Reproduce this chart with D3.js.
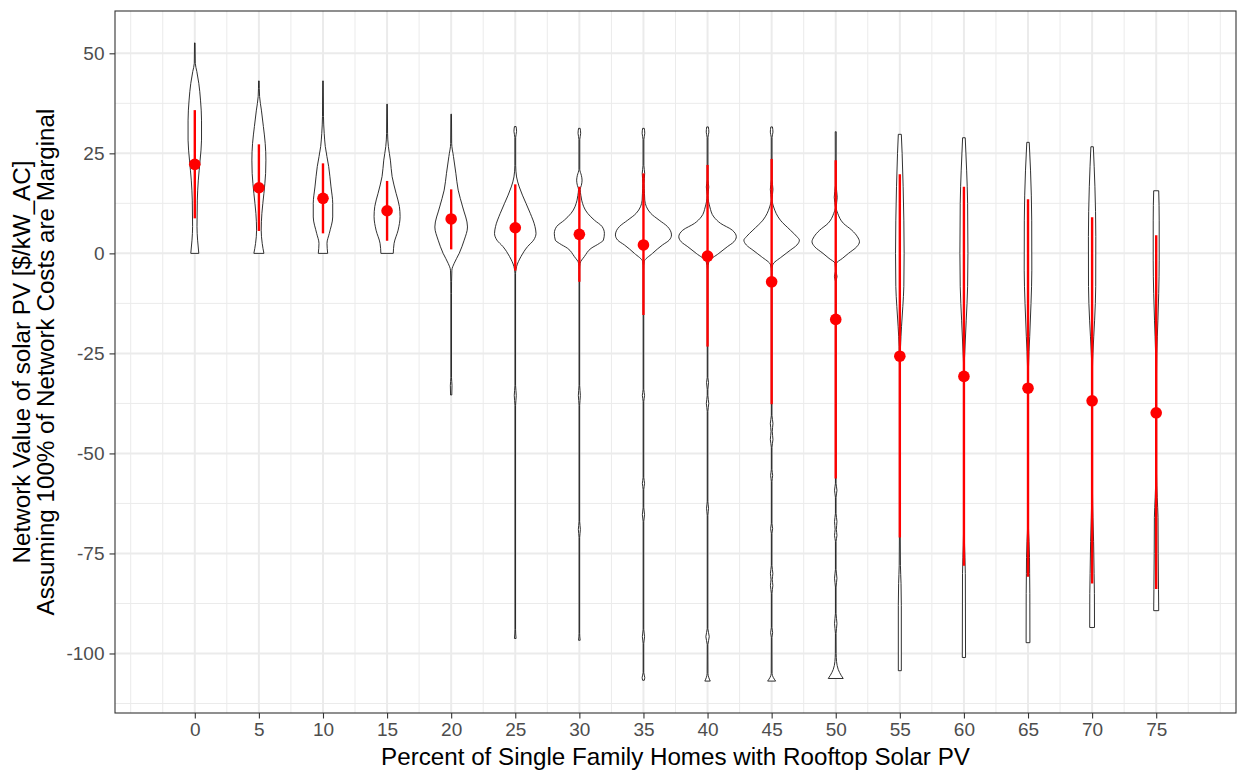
<!DOCTYPE html>
<html>
<head>
<meta charset="utf-8">
<script src="https://cdn.jsdelivr.net/npm/d3@7"></script>
<style>
  html, body { margin: 0; padding: 0; background: #ffffff; }
  svg { display: block; }
  text { font-family: "Liberation Sans", Arial, Helvetica, sans-serif; }
</style>
</head>
<body>
<svg id="chart" width="1238" height="775"></svg>
<script>
// Share of single family homes with rooftop PV (%)
const pct = [0, 5, 10, 15, 20, 25, 30, 35, 40, 45, 50, 55, 60, 65, 70, 75];

// Mean network value and mean ± 1 sd ($/kW_AC)
const meanValue = [22.25, 16.4, 13.75, 10.65, 8.6, 6.4, 4.75, 2.1, -0.7, -7.1, -16.5, -25.7, -30.75, -33.7, -36.85, -39.85];
const lowerValue = [8.75, 5.6, 5.0, 3.15, 1.0, -4.3, -7.1, -15.4, -23.3, -37.7, -56.25, -71.0, -78.1, -80.8, -82.5, -83.9];
const upperValue = [35.8, 27.25, 22.5, 18.1, 16.0, 17.25, 16.65, 20.0, 22.1, 23.6, 23.3, 19.8, 16.65, 13.5, 9.0, 4.5];

// Violin outlines: [value, scaled density] from the top of each distribution to its bottom
const shape00 = [[52.6,0.010],[47.5,0.017],[45.5,0.069],[42.5,0.139],[38.3,0.198],[33.3,0.233],[28.3,0.233],[23.3,0.184],[18.3,0.122],[13.3,0.087],[6.7,0.076],[3.3,0.097],[0,0.139]];
const shape05 = [[43.1,0.010],[39.2,0.024],[35.8,0.087],[31.7,0.156],[27.5,0.219],[23.3,0.243],[20,0.233],[15,0.174],[10,0.104],[5.8,0.080],[2.5,0.115],[0,0.174]];
const shape10 = [[43.1,0.010],[34.2,0.017],[30,0.042],[26.7,0.080],[21.7,0.198],[16.6,0.278],[12.5,0.337],[9.1,0.337],[5,0.219],[2.5,0.139],[0,0.163]];
const shape15 = [[37.3,0.010],[30,0.017],[26.7,0.045],[23.3,0.115],[19.2,0.174],[15,0.313],[11.7,0.427],[9.2,0.451],[5.8,0.382],[2.5,0.243],[0,0.215]];
const shape20 = [[34.8,0.010],[27.5,0.017],[24.2,0.080],[20,0.163],[15.8,0.243],[11.6,0.399],[6.6,0.566],[3.3,0.451],[0,0.278],[-2.5,0.104],[-4.2,0.024],[-10,0.010],[-31,0.010],[-33,0.028],[-35.4,0.021]];
const shape25 = [[31.7,0.028],[30.5,0.045],[29,0.014],[22,0.014],[19.1,0.045],[16.6,0.139],[12.5,0.372],[10,0.521],[6.7,0.684],[5,0.719],[3.3,0.635],[1.7,0.427],[-0.8,0.198],[-3.3,0.045],[-5,0.010],[-33,0.010],[-35.5,0.035],[-38,0.010],[-94,0.010],[-96.25,0.028]];
const shape30 = [[31.25,0.028],[30,0.045],[28.5,0.014],[21,0.014],[19.5,0.069],[18.3,0.094],[17,0.069],[16,0.028],[14.5,0.052],[13.3,0.080],[10,0.288],[8.3,0.521],[6.7,0.788],[5,0.868],[3.3,0.833],[2.5,0.694],[1.25,0.406],[-0.8,0.174],[-2.5,0.024],[-4,0.010],[-33,0.010],[-35.5,0.035],[-38,0.010],[-67,0.010],[-69,0.035],[-71,0.010],[-95,0.010],[-96.7,0.028]];
const shape35 = [[31.25,0.028],[30,0.045],[28.5,0.014],[22,0.014],[20,0.042],[17.5,0.021],[15,0.035],[13.3,0.045],[10,0.253],[8.3,0.545],[6.7,0.833],[4.6,0.972],[3.3,0.892],[2.1,0.660],[0,0.313],[-2.1,0.024],[-4,0.010],[-34,0.010],[-35.5,0.038],[-37,0.010],[-56,0.010],[-57.5,0.038],[-59,0.010],[-63.5,0.010],[-65.3,0.038],[-67,0.010],[-94,0.010],[-95.8,0.038],[-97.5,0.010],[-104.8,0.010],[-106,0.045],[-106.7,0.028]];
const shape40 = [[31.6,0.028],[30.3,0.045],[29,0.014],[18.5,0.014],[16.6,0.042],[14.5,0.014],[11.6,0.080],[9.1,0.219],[7.5,0.451],[5.8,0.858],[4.15,0.997],[2.9,0.913],[1.65,0.684],[0,0.392],[-2.1,0.045],[-4,0.010],[-31,0.010],[-32.3,0.035],[-34,0.010],[-35.5,0.010],[-37.5,0.042],[-39.5,0.010],[-62,0.010],[-63.7,0.035],[-65.5,0.010],[-93.8,0.010],[-95.8,0.059],[-97.8,0.010],[-105,0.014],[-106.9,0.094]];
const shape45 = [[31.6,0.028],[30.3,0.045],[29,0.014],[18.5,0.014],[16,0.045],[13.5,0.014],[11.6,0.069],[8.3,0.302],[5.8,0.649],[4.15,0.878],[3.3,0.962],[2.1,0.878],[0.8,0.649],[-0.8,0.358],[-2.9,0.035],[-4.5,0.010],[-40.5,0.010],[-42.5,0.045],[-44.5,0.021],[-46.5,0.045],[-48.5,0.010],[-54,0.010],[-55.5,0.035],[-57,0.010],[-67.5,0.010],[-68.8,0.035],[-70,0.010],[-78,0.010],[-80,0.042],[-81.5,0.021],[-83,0.042],[-85,0.010],[-93.5,0.010],[-94.8,0.035],[-96,0.010],[-105,0.014],[-106.9,0.139]];
const shape50 = [[30.4,0.017],[17,0.014],[14,0.052],[11.5,0.014],[10,0.069],[7.5,0.267],[5.8,0.556],[4.15,0.753],[2.9,0.823],[1.65,0.729],[0,0.441],[-1.25,0.233],[-2.5,0.024],[-4.5,0.010],[-5.8,0.045],[-7,0.010],[-57.5,0.010],[-59.2,0.042],[-61,0.010],[-65,0.010],[-67,0.042],[-69,0.021],[-70.5,0.042],[-72,0.010],[-79,0.010],[-81.2,0.042],[-83.4,0.010],[-90,0.010],[-92.5,0.042],[-95,0.010],[-100,0.014],[-102,0.028],[-104,0.087],[-105.5,0.191],[-106.25,0.260]];
const shape55 = [[29.75,0.052],[25,0.080],[16.65,0.115],[8.3,0.139],[0,0.149],[-8.3,0.139],[-13.3,0.104],[-18.3,0.059],[-23.3,0.024],[-28,0.014],[-70,0.014],[-78,0.021],[-82.5,0.042],[-88,0.052],[-104.3,0.052]];
const shape60 = [[28.9,0.045],[20.8,0.094],[12.5,0.128],[0,0.139],[-8.3,0.128],[-16.7,0.080],[-25,0.028],[-27.5,0.014],[-70,0.014],[-76,0.035],[-80,0.049],[-101,0.056]];
const shape65 = [[27.75,0.042],[20.8,0.087],[8.3,0.128],[-4.2,0.132],[-12.5,0.104],[-20.8,0.059],[-28.3,0.017],[-35,0.014],[-68,0.014],[-72,0.035],[-76,0.052],[-80,0.056],[-85,0.063],[-97.3,0.066]];
const shape70 = [[26.65,0.042],[16.65,0.097],[4.2,0.128],[-8.3,0.125],[-16.7,0.087],[-25,0.028],[-28.3,0.014],[-60,0.014],[-66,0.028],[-72,0.052],[-80,0.069],[-85,0.080],[-93.5,0.083]];
const shape75 = [[15.65,0.087],[8.3,0.104],[-1.7,0.104],[-10,0.087],[-16.7,0.059],[-25,0.021],[-30,0.014],[-55,0.014],[-61,0.035],[-66,0.063],[-75,0.069],[-84,0.080],[-89.3,0.087]];

const shapes = [shape00, shape05, shape10, shape15, shape20, shape25, shape30, shape35,
                shape40, shape45, shape50, shape55, shape60, shape65, shape70, shape75];

// Axis breaks
const xTicks = [0, 5, 10, 15, 20, 25, 30, 35, 40, 45, 50, 55, 60, 65, 70, 75];
const xMinor = [-5, -2.5, 2.5, 7.5, 12.5, 17.5, 22.5, 27.5, 32.5, 37.5, 42.5, 47.5, 52.5, 57.5, 62.5, 67.5, 72.5, 77.5, 80];
const yTicks = [50, 25, 0, -25, -50, -75, -100];
const yMinor = [37.5, 12.5, -12.5, -37.5, -62.5, -87.5, -112.5];

const xTitle = "Percent of Single Family Homes with Rooftop Solar PV";
const yTitle = ["Network Value of solar PV [$/kW_AC]", "Assuming 100% of Network Costs are Marginal"];

// ---- layout ----
const panel = { left: 115, right: 1236, top: 11, bottom: 713 };
const halfWidth = 2.25;          // violin half width in x units (0.9 * 5 / 2)
const tickFont = 19;
const titleFont = 24.2;

const svg = d3.select("#chart");

// continuous x with ggplot-style 5% expansion around the violin extents
const xLo = d3.min(pct) - halfWidth, xHi = d3.max(pct) + halfWidth;
const xPad = (xHi - xLo) * 0.05;
const x = d3.scaleLinear().domain([xLo - xPad, xHi + xPad]).range([panel.left, panel.right]);

const allVals = shapes.flat().map(d => d[0]);
const yLo = d3.min(allVals), yHi = d3.max(allVals);
const yPad = (yHi - yLo) * 0.05;
const y = d3.scaleLinear().domain([yLo - yPad, yHi + yPad]).range([panel.bottom, panel.top]);

// ---- grid ----
const grid = svg.append("g");
grid.selectAll(".gxm").data(xMinor).join("line")
  .attr("x1", d => x(d)).attr("x2", d => x(d))
  .attr("y1", panel.top).attr("y2", panel.bottom)
  .attr("stroke", "#ebebeb").attr("stroke-width", 1);
grid.selectAll(".gym").data(yMinor).join("line")
  .attr("x1", panel.left).attr("x2", panel.right)
  .attr("y1", d => y(d)).attr("y2", d => y(d))
  .attr("stroke", "#ebebeb").attr("stroke-width", 1);
grid.selectAll(".gxM").data(xTicks).join("line")
  .attr("x1", d => x(d)).attr("x2", d => x(d))
  .attr("y1", panel.top).attr("y2", panel.bottom)
  .attr("stroke", "#ebebeb").attr("stroke-width", 2);
grid.selectAll(".gyM").data(yTicks).join("line")
  .attr("x1", panel.left).attr("x2", panel.right)
  .attr("y1", d => y(d)).attr("y2", d => y(d))
  .attr("stroke", "#ebebeb").attr("stroke-width", 2);

// ---- violins ----
const violins = svg.append("g");
shapes.forEach((shape, i) => {
  const c = pct[i];
  const area = d3.area()
    .y(d => y(d[0]))
    .x0(d => x(c - d[1] * halfWidth))
    .x1(d => x(c + d[1] * halfWidth))
    .curve(d3.curveMonotoneY);
  violins.append("path")
    .attr("d", area(shape))
    .attr("fill", "#ffffff")
    .attr("stroke", "#1a1a1a")
    .attr("stroke-width", 0.9)
    .attr("stroke-linejoin", "round");
});

// ---- mean ± sd ----
const pr = svg.append("g");
pr.selectAll("line").data(pct).join("line")
  .attr("x1", d => x(d)).attr("x2", d => x(d))
  .attr("y1", (d, i) => y(upperValue[i]))
  .attr("y2", (d, i) => y(lowerValue[i]))
  .attr("stroke", "#ff0000").attr("stroke-width", 2.4);
pr.selectAll("circle").data(pct).join("circle")
  .attr("cx", d => x(d))
  .attr("cy", (d, i) => y(meanValue[i]))
  .attr("r", 5.8)
  .attr("fill", "#ff0000");

// ---- panel border ----
svg.append("rect")
  .attr("x", panel.left).attr("y", panel.top)
  .attr("width", panel.right - panel.left).attr("height", panel.bottom - panel.top)
  .attr("fill", "none").attr("stroke", "#333333").attr("stroke-width", 1.1);

// ---- axes (plain hyphen for negatives) ----
const plain = d => String(d);
const xAxis = d3.axisBottom(x).tickValues(xTicks).tickSize(5.5).tickPadding(4).tickFormat(plain);
const gx = svg.append("g").attr("transform", `translate(0,${panel.bottom})`).call(xAxis);
gx.select(".domain").remove();
gx.selectAll(".tick line").attr("stroke", "#333333").attr("stroke-width", 1.1);
gx.selectAll(".tick text").attr("fill", "#4d4d4d").attr("font-size", tickFont)
  .attr("font-family", "'Liberation Sans', Arial, sans-serif");

const yAxis = d3.axisLeft(y).tickValues(yTicks).tickSize(5.5).tickPadding(5).tickFormat(plain);
const gy = svg.append("g").attr("transform", `translate(${panel.left},0)`).call(yAxis);
gy.select(".domain").remove();
gy.selectAll(".tick line").attr("stroke", "#333333").attr("stroke-width", 1.1);
gy.selectAll(".tick text").attr("fill", "#4d4d4d").attr("font-size", tickFont)
  .attr("font-family", "'Liberation Sans', Arial, sans-serif");

// ---- titles ----
svg.append("text")
  .attr("x", (panel.left + panel.right) / 2).attr("y", 765)
  .attr("text-anchor", "middle").attr("font-size", titleFont).attr("fill", "#000")
  .text(xTitle);

const yMid = (panel.top + panel.bottom) / 2;
yTitle.forEach((t, i) => {
  svg.append("text")
    .attr("transform", `translate(${29.5 + i * 24.5},${yMid}) rotate(-90)`)
    .attr("text-anchor", "middle").attr("font-size", titleFont).attr("fill", "#000")
    .text(t);
});
</script>
</body>
</html>
